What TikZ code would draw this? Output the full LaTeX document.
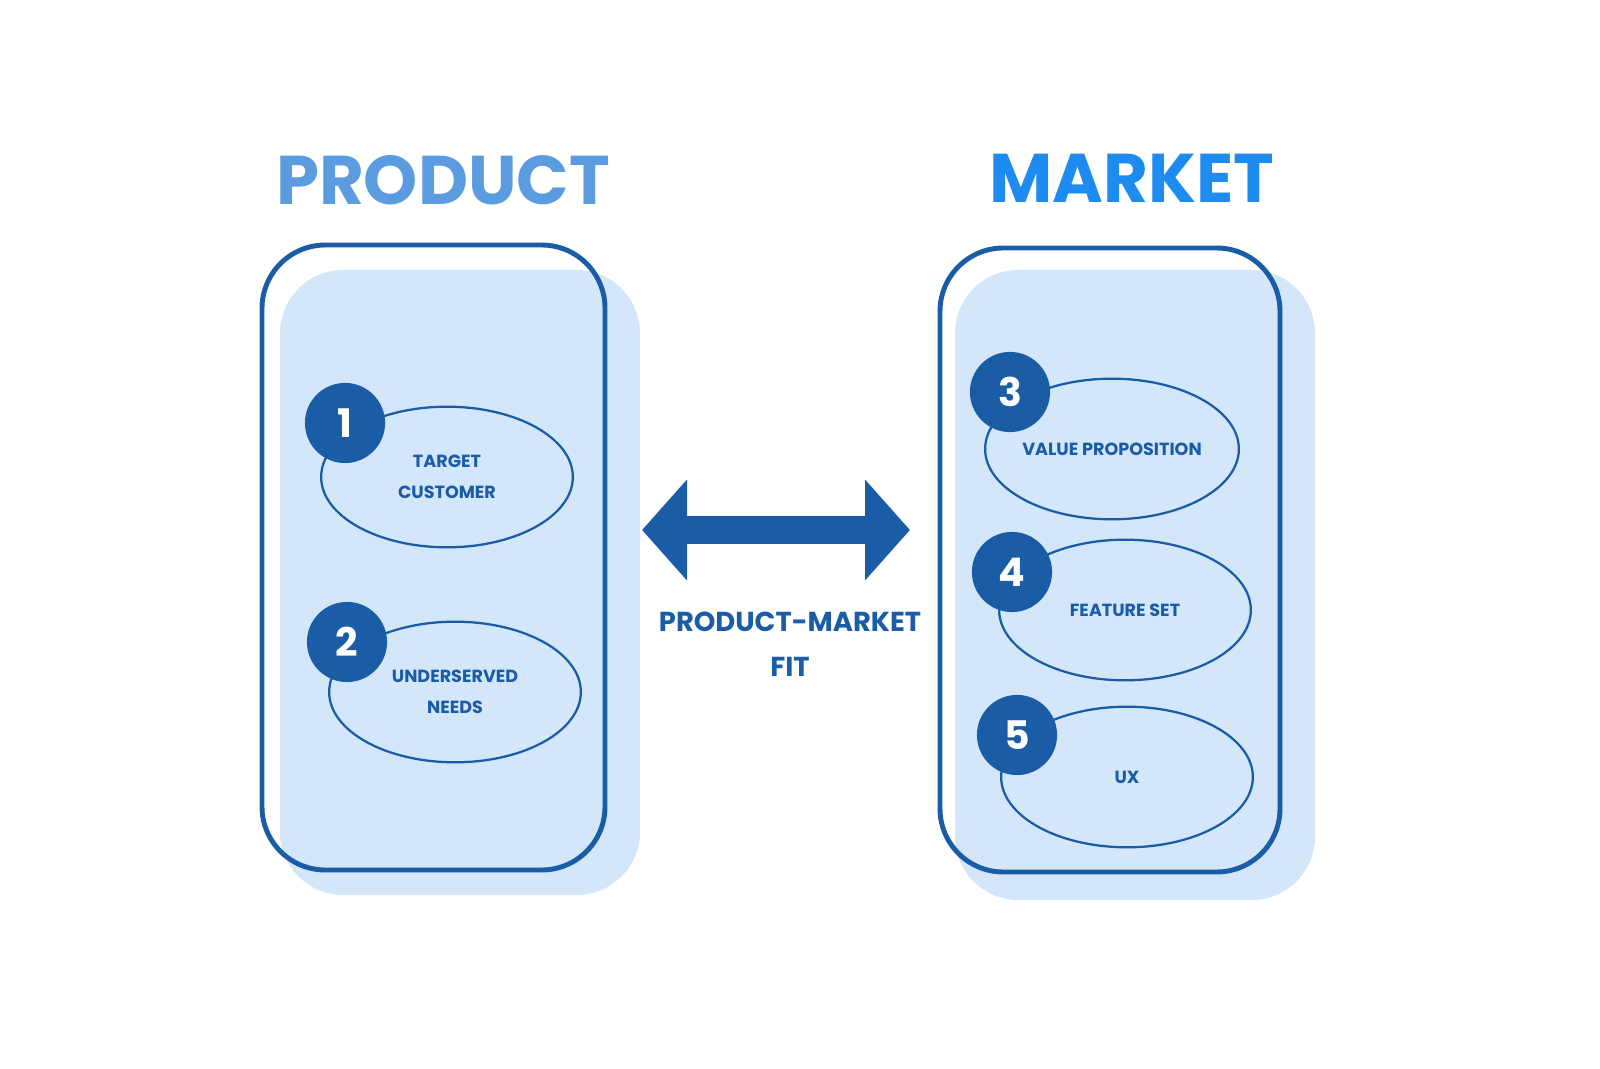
\documentclass[tikz,border=0pt]{standalone}
\usepackage{fontspec}
\setmainfont{Poppins}
\usetikzlibrary{arrows.meta,shapes.geometric}
\definecolor{pmDark}{HTML}{1A5CA6}
\definecolor{pmFill}{HTML}{D3E6FA}
\definecolor{pmTitleA}{HTML}{5B9BE0}
\definecolor{pmTitleB}{HTML}{1E8BF0}
\begin{document}
\begin{tikzpicture}[x=0.025cm,y=-0.025cm,
        blob/.style={draw=pmDark, line width=3.5pt, rounded corners=45pt},
        shade/.style={fill=pmFill, rounded corners=45pt},
        item/.style={draw=pmDark, line width=1.6pt, ellipse, minimum width=179pt, minimum height=100pt, inner sep=0pt,
            align=center, text=pmDark, font=\fontsize{12.5}{22}\selectfont\bfseries},
        num/.style={circle, fill=pmDark, minimum size=57pt, inner sep=0pt, text=white, font=\fontsize{28}{28}\selectfont\bfseries},
        title/.style={font=\fontsize{49}{49}\selectfont\bfseries}
    ]
    \useasboundingbox (0,0) rectangle (1600,1069);
    % background shapes
    \fill[shade] (280,270) rectangle (640,895);
    \fill[shade] (955,270) rectangle (1315,900);
    \draw[blob] (262,245) rectangle (605,870);
    \draw[blob] (940,248) rectangle (1280,872);
    % titles
    \node[title, text=pmTitleA] (product) at (443,180) {PRODUCT};
    \node[title, text=pmTitleB] (market) at (1132,178) {MARKET};
    % items
    \node[item] (target) at (447,477) {TARGET\\CUSTOMER};
    \node[item] (needs) at (455,692) {UNDERSERVED\\NEEDS};
    \node[item] (value) at (1112,449) {VALUE PROPOSITION};
    \node[item] (feature) at (1125,610) {FEATURE SET};
    \node[item] (ux) at (1127,777) {UX};
    \node[num] (n1) at (345,423) {1};
    \node[num] (n2) at (347,642) {2};
    \node[num] (n3) at (1010,392) {3};
    \node[num] (n4) at (1012,572) {4};
    \node[num] (n5) at (1017,735) {5};
    % fit arrow
    \coordinate (fitL) at (642,530);
    \coordinate (fitR) at (910,530);
    \draw[pmDark, line width=20pt, {Triangle[length=32pt, width=70pt]}-{Triangle[length=32pt, width=70pt]}] (fitL) -- (fitR);
    \node[text=pmDark, align=center, font=\fontsize{19.5}{32}\selectfont\bfseries] (fit) at (790,644) {PRODUCT-MARKET\\FIT};
\end{tikzpicture}
\end{document}
